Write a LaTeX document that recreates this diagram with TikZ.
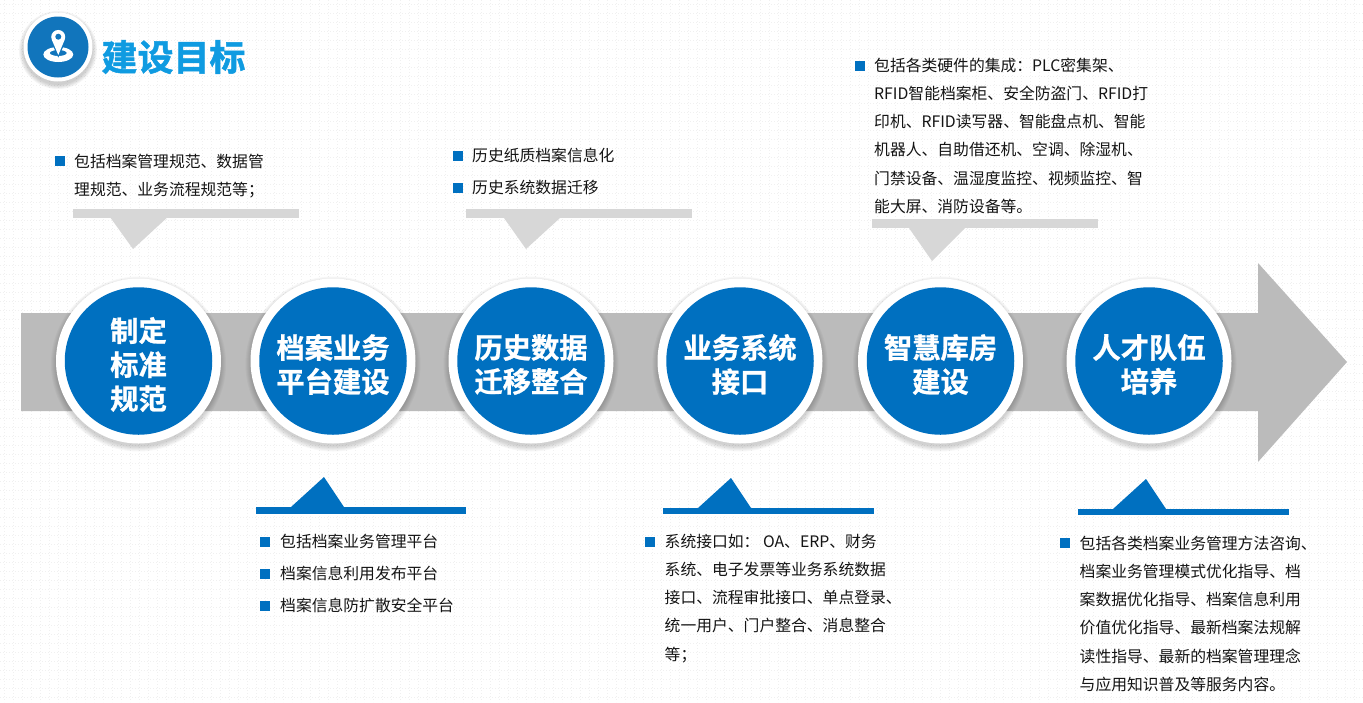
\documentclass[tikz,border=0pt]{standalone}
\usepackage{fontspec}
\setmainfont{Noto Sans CJK SC}
\newfontfamily\boldcjk{Noto Sans CJK SC Bold}[FakeBold=0.9]
\newfontfamily\titlecjk{Noto Sans CJK SC Bold}[FakeBold=1.4]
\definecolor{mainblue}{HTML}{0070C0}
\definecolor{logoblue}{HTML}{1175BC}
\definecolor{titleblue}{HTML}{0F9BE1}
\definecolor{arrowgrey}{HTML}{BBBBBB}
\definecolor{calloutgrey}{HTML}{D7D7D7}
\definecolor{dotgrey}{HTML}{F0F0F0}
\definecolor{bodyblack}{HTML}{141414}
\tikzset{
  bgdots/.style={draw=dotgrey,line width=0.8pt,dash pattern=on 1pt off 2pt},
  circleouter/.style={circle,fill=white,minimum size=165pt,inner sep=0pt},
  circleinner/.style={circle,fill=mainblue,minimum size=147.5pt,inner sep=0pt},
  circlelabel/.style={text=white,inner sep=0pt,align=center,
    font=\boldcjk\fontsize{28.3}{34}\selectfont},
  bodytext/.style={anchor=north west,inner sep=0pt,align=left,text=bodyblack,
    font=\fontsize{15.8}{28.3}\selectfont},
  bulletsq/.style={fill=mainblue,minimum size=10pt,inner sep=0pt,anchor=north west,shape=rectangle},
}
% centre x, centre y, name, text
\newcommand{\stepcircle}[4]{%
  \foreach \r in {87.5,86.5,85.5,84.5,83.5,82.5}{\fill[black,opacity=0.03] (#1,#2+3) circle[radius=\r pt];}
  \node[circleouter] (#3o) at (#1,#2) {};
  \node[circleinner] (#3i) at (#1,#2) {};
  \node[circlelabel] (#3) at (#1,#2+3.5) {#4};
}
% name, x, y of first-line centre, text
\newcommand{\para}[4]{\node[bodytext] (#1) at (#2,#3-14) {\strut #4};}
% name, x, y
\newcommand{\bulletat}[3]{\node[bulletsq] (#1) at (#2,#3) {};}
\begin{document}
\begin{tikzpicture}[x=1pt,y=-1pt]
\useasboundingbox (0,0) rectangle (1363,702);
\fill[white] (0,0) rectangle (1363,702);
% dotted background
\foreach \gx in {4,13,...,1363}{\draw[bgdots] (\gx,0) -- (\gx,702);}
\foreach \gy in {4,13,...,702}{\draw[bgdots] (0,\gy) -- (1363,\gy);}
% logo
\foreach \r in {39,38,37,36,35}{\fill[black,opacity=0.04] (58,50) circle[radius=\r pt];}
\node[circle,fill=white,minimum size=69pt,inner sep=0pt] (logoout) at (58,47) {};
\node[circle,fill=logoblue,minimum size=61pt,inner sep=0pt] (logoin) at (58,47) {};
\fill[white,even odd rule] (58.3,54.5) ellipse[x radius=15pt,y radius=7.5pt] (58.3,53) ellipse[x radius=8.5pt,y radius=3pt];
\fill[logoblue] (58.3,57.5) -- (50.3,40) arc[start angle=-157,end angle=-383,radius=8.7pt] -- cycle;
\fill[white] (58.3,55) -- (51.8,39.7) arc[start angle=-157,end angle=-383,radius=7pt] -- cycle;
\fill[logoblue] (58.3,36.7) circle[radius=3pt];
\node[anchor=center,inner sep=0pt,text=titleblue,font=\titlecjk\fontsize{36}{36}\selectfont] (title) at (173.5,57) {建设目标};
% big arrow
\fill[arrowgrey] (21,313) -- (1258,313) -- (1258,263) -- (1347,362) -- (1258,462) -- (1258,411) -- (21,411) -- cycle;
% step circles
\stepcircle{138.5}{361}{s1}{制定\\标准\\规范}
\stepcircle{333}{361}{s2}{档案业务\\平台建设}
\stepcircle{531}{361}{s3}{历史数据\\迁移整合}
\stepcircle{740}{361}{s4}{业务系统\\接口}
\stepcircle{940.5}{361}{s5}{智慧库房\\建设}
\stepcircle{1149}{361}{s6}{人才队伍\\培养}
% grey callouts
\fill[calloutgrey] (73,209) rectangle (299,218);
\fill[calloutgrey] (110.7,218) -- (166.7,218) -- (133,249) -- cycle;
\fill[calloutgrey] (466,209) rectangle (692,218);
\fill[calloutgrey] (504,218) -- (560,218) -- (526,249) -- cycle;
\fill[calloutgrey] (872,219) rectangle (1098,228);
\fill[calloutgrey] (909,228) -- (965,228) -- (932,261) -- cycle;
% blue callouts
\fill[mainblue] (256,507) rectangle (466,514);
\fill[mainblue] (291,507) -- (344,507) -- (324,477) -- cycle;
\fill[mainblue] (663,508) rectangle (874,514);
\fill[mainblue] (698,508) -- (751,508) -- (731,478) -- cycle;
\fill[mainblue] (1078,509) rectangle (1289,515);
\fill[mainblue] (1113,509) -- (1166,509) -- (1146,479) -- cycle;
% text blocks
\bulletat{b1}{55}{155.5}
\para{t1}{74}{161}{包括档案管理规范、数据管\\理规范、业务流程规范等；}
\bulletat{b2}{453}{151}
\para{t2}{472}{155.5}{历史纸质档案信息化}
\bulletat{b3}{453}{183}
\para{t3}{472}{187.5}{历史系统数据迁移}
\bulletat{b4}{855}{61}
\para{t4}{874}{65}{包括各类硬件的集成：PLC密集架、\\RFID智能档案柜、安全防盗门、RFID打\\印机、RFID读写器、智能盘点机、智能\\机器人、自助借还机、空调、除湿机、\\门禁设备、温湿度监控、视频监控、智\\能大屏、消防设备等。}
\bulletat{b5}{260}{537}
\para{t5}{280}{541.5}{包括档案业务管理平台}
\bulletat{b6}{260}{569}
\para{t6}{280}{573.5}{档案信息利用发布平台}
\bulletat{b7}{260}{601}
\para{t7}{280}{605.5}{档案信息防扩散安全平台}
\bulletat{b8}{645}{537}
\para{t8}{664.5}{541}{系统接口如： OA、ERP、财务\\系统、电子发票等业务系统数据\\接口、流程审批接口、单点登录、\\统一用户、门户整合、消息整合\\等；}
\bulletat{b9}{1060}{538}
\para{t9}{1079.5}{543}{包括各类档案业务管理方法咨询、\\档案业务管理模式优化指导、档\\案数据优化指导、档案信息利用\\价值优化指导、最新档案法规解\\读性指导、最新的档案管理理念\\与应用知识普及等服务内容。}
\end{tikzpicture}
\end{document}
